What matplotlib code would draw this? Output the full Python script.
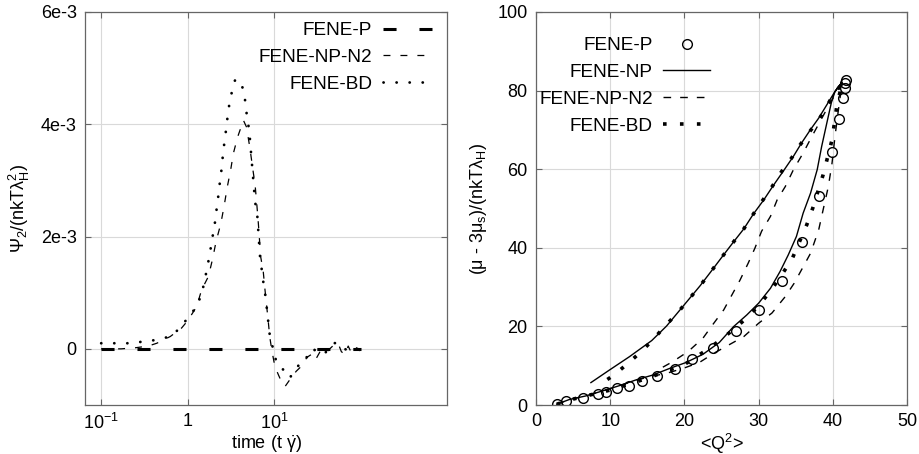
"""Psi_2 transient and stress-conformation hysteresis, FENE-P / NP / BD comparison."""
import matplotlib
matplotlib.use('Agg')
import matplotlib.pyplot as plt
from matplotlib.ticker import FixedLocator, NullLocator

plt.rcParams['font.family'] = ['Liberation Sans', 'DejaVu Sans']
plt.rcParams['mathtext.fontset'] = 'custom'
plt.rcParams['mathtext.rm'] = 'Liberation Sans'
plt.rcParams['mathtext.it'] = 'Liberation Sans:italic'
plt.rcParams['mathtext.default'] = 'regular'
plt.rcParams['lines.scale_dashes'] = False
plt.rcParams['axes.unicode_minus'] = False

# ---- left panel: Psi_2 vs time (values in units of 1e-3) ----
t_p = [0.1, 100.0]
psi_p = [0.0, 0.0]

t_n2 = [0.1, 0.17, 0.25, 0.35, 0.44, 0.63, 0.85, 1.0, 1.27, 1.45, 1.74, 1.95, 2.13,
        2.42, 2.64, 2.88, 3.14, 3.38, 3.78, 4.42, 4.8, 5.26, 5.7, 6.03, 6.3, 6.58,
        7.0, 7.5, 7.85, 8.6, 8.9, 9.4, 10.2, 11.2, 12.3, 13.4, 15.2, 18.0, 21.0,
        24.0, 27.0, 30.0, 34.0, 38.0, 44.0, 50.0, 55.0, 60.0, 66.0, 72.0, 80.0,
        90.0, 100.0]
psi_n2 = [0.0, 0.0, 0.02, 0.05, 0.1, 0.22, 0.37, 0.5, 0.75, 1.05, 1.29, 1.61, 1.91,
          2.23, 2.54, 2.89, 3.18, 3.48, 3.77, 4.07, 3.95, 3.57, 3.18, 2.92, 2.59, 2.23,
          1.64, 1.37, 1.05, 0.46, 0.22, -0.02, -0.31, -0.46, -0.6, -0.67, -0.55, -0.4,
          -0.3, -0.15, -0.1, -0.2, -0.05, -0.1, 0.0, 0.08, 0.1, -0.05, -0.1, 0.05,
          -0.1, 0.02, -0.05]

t_bd = [0.1, 0.152, 0.216, 0.309, 0.44, 0.626, 0.82, 1.0, 1.27, 1.46, 1.58, 1.69,
        1.81, 1.91, 2.04, 2.13, 2.24, 2.33, 2.44, 2.53, 2.64, 2.76, 2.88, 3.03, 3.24,
        3.54, 4.05, 4.54, 4.69, 5.18, 5.5, 6.03, 6.39, 6.85, 7.49, 7.96, 8.9, 9.7,
        10.7, 12.2, 13.9, 15.3, 16.6, 18.9, 20.3, 23.0, 26.0, 29.4, 34.5, 38.8, 43.9,
        49.5, 53.9, 61.0, 68.6, 77.0, 85.0, 95.0]
psi_bd = [0.1, 0.1, 0.1, 0.13, 0.16, 0.22, 0.37, 0.55, 0.75, 0.99, 1.23, 1.46,
          1.7, 1.94, 2.17, 2.41, 2.66, 2.9, 3.13, 3.38, 3.63, 3.86, 4.1, 4.35, 4.57,
          4.79, 4.78, 4.55, 4.31, 3.86, 3.36, 2.62, 2.38, 1.67, 1.2, 0.93, 0.25, 0.01,
          -0.25, -0.34, -0.43, -0.52, -0.4, -0.31, -0.23, -0.14, -0.17, -0.02, -0.02, -0.08, 0.04,
          0.1, 0.11, 0.04, -0.02, 0.01, -0.02, 0.0]

# ---- right panel: (mu - 3mu_s)/(nkT lambda_H) vs <Q^2> ----
q2_p = [2.8, 4.0, 6.4, 8.4, 9.5, 10.9, 12.5, 14.3, 16.3, 18.7, 21.0, 23.8, 26.9,
        30.1, 33.1, 35.8, 38.2, 39.9, 40.9, 41.4, 41.6, 41.7, 41.8]
mu_p = [0.2, 1.0, 1.9, 2.7, 3.4, 4.2, 4.9, 6.2, 7.4, 9.1, 11.6, 14.4, 18.9,
        24.2, 31.6, 41.4, 53.1, 64.5, 72.9, 78.1, 80.7, 82.0, 82.8]

q2_np = [2.8, 4.5, 6.7, 9.0, 11.2, 13.5, 15.7, 18.0, 20.2, 22.5, 24.7, 26.6, 28.4,
         30.0, 31.6, 32.9, 34.0, 35.1, 36.0, 37.0, 37.9, 38.5, 39.2, 39.8, 40.3, 41.2,
         40.3, 39.2, 38.1, 37.0, 35.8, 34.7, 33.4, 32.0, 30.7, 29.3, 28.0, 26.5, 25.0,
         23.6, 22.1, 20.6, 19.1, 17.6, 15.6, 12.6, 9.9, 7.4]
mu_np = [0.2, 1.4, 2.3, 3.6, 4.9, 6.4, 7.6, 9.3, 10.8, 12.9, 15.9, 19.9, 22.9,
         25.9, 29.7, 34.0, 38.2, 42.9, 48.8, 53.9, 59.9, 65.8, 71.8, 76.9, 79.8, 82.0,
         79.8, 76.4, 73.0, 70.1, 66.7, 63.3, 59.7, 55.9, 52.2, 48.6, 44.8, 41.2, 37.5,
         34.0, 30.3, 26.9, 23.5, 20.1, 16.4, 12.3, 8.9, 5.7]

q2_n2 = [2.8, 4.5, 6.7, 9.0, 11.2, 13.5, 15.7, 17.3, 19.8, 22.0, 24.0, 26.0, 28.0,
         30.0, 31.8, 33.6, 34.8, 37.0, 38.1, 38.7, 39.4, 39.9, 40.3, 40.7, 41.0, 41.4,
         40.3, 39.4, 38.3, 37.2, 36.0, 34.7, 33.6, 32.5, 31.6, 30.4, 29.5, 28.6, 27.5,
         26.4, 25.3, 23.8, 22.5, 20.5, 18.4, 16.5]
mu_n2 = [0.2, 1.4, 2.3, 3.6, 4.9, 6.3, 7.4, 7.9, 9.3, 10.8, 13.2, 15.3, 17.4,
         20.8, 23.4, 27.6, 31.0, 38.6, 44.6, 49.7, 55.6, 61.6, 68.4, 74.3, 78.5, 82.0,
         79.0, 76.0, 72.2, 68.4, 64.1, 59.9, 55.6, 52.2, 48.0, 44.2, 39.9, 36.1, 31.8,
         28.0, 24.2, 20.4, 17.0, 13.6, 11.0, 9.0]

q2_bd = [2.8, 5.0, 10.0, 15.0, 20.0, 23.0, 24.9, 26.8, 28.6, 30.2, 31.8, 33.1, 34.5,
         36.5, 37.3, 38.7, 39.9, 40.6, 41.3, 40.8, 39.8, 39.0, 38.1, 36.9, 35.6, 34.5,
         33.1, 31.9, 30.6, 29.3, 28.0, 26.5, 25.0, 23.6, 22.1, 20.6, 19.1, 17.4, 15.8,
         14.2, 12.4, 10.5, 8.5]
mu_bd = [0.2, 1.5, 3.8, 6.8, 10.3, 14.0, 16.6, 19.5, 22.5, 25.7, 29.5, 33.1, 37.1,
         45.9, 50.1, 58.6, 67.5, 76.9, 82.0, 80.7, 78.1, 75.3, 72.6, 69.6, 66.2, 63.0,
         59.4, 55.8, 52.2, 48.6, 44.8, 41.2, 37.5, 34.0, 30.3, 26.9, 23.5, 20.1, 16.7,
         13.6, 10.6, 7.6, 5.1]

FS = 13
frame_col = '#666666'
grid_col = '#d9d9d9'

fig = plt.figure(figsize=(9.2, 4.54), dpi=100)
ax1 = fig.add_axes([85/920, 49/454, 362/920, 393/454])
ax2 = fig.add_axes([536/920, 49/454, 371/920, 393/454])

# left
ax1.plot(t_p, [v*1e-3 for v in psi_p], color='black', lw=2.2,
         dashes=(9.4, 16.5), label='FENE-P')
ax1.plot(t_n2, [v*1e-3 for v in psi_n2], color='black', lw=0.9,
         dashes=(5, 7.2), label='FENE-NP-N2')
ax1.plot(t_bd, [v*1e-3 for v in psi_bd], color='black', lw=2.0,
         dashes=(0.1, 9.3), dash_capstyle='round', label='FENE-BD')
ax1.set_xscale('log')
ax1.set_xlim(0.065, 1000)
ax1.set_ylim(-1e-3, 6e-3)
ax1.xaxis.set_major_locator(FixedLocator([0.1, 1, 10]))
ax1.xaxis.set_minor_locator(NullLocator())
ax1.set_xticklabels(['10$^{-1}$', '1', '10$^{1}$'])
ax1.set_yticks([0, 2e-3, 4e-3, 6e-3])
ax1.set_yticklabels(['0', '2e-3', '4e-3', '6e-3'])
ax1.set_xlabel(r'time (t $\dot{\gamma}$)', fontsize=FS, labelpad=0)
ax1.set_ylabel(r'$\Psi_2$/(nkT$\lambda_H^2$)', fontsize=FS, labelpad=6)
ax1.legend(loc='upper right', bbox_to_anchor=(432/920, 1 - 22/454),
           bbox_transform=fig.transFigure, markerfirst=False, frameon=False,
           handlelength=2.6, handletextpad=0.55, borderpad=0, borderaxespad=0,
           labelspacing=0.5, fontsize=13.7)

# right
ax2.plot(q2_p, mu_p, ls='none', marker='o', ms=7, mfc='none', mec='black',
         mew=1.0, label='FENE-P')
ax2.plot(q2_np, mu_np, color='black', lw=1.0, label='FENE-NP')
ax2.plot(q2_n2, mu_n2, color='black', lw=1.0, dashes=(5.5, 6.5), label='FENE-NP-N2')
ax2.plot(q2_bd, mu_bd, color='black', lw=2.6, dashes=(2.6, 9.6),
         label='FENE-BD')
ax2.set_xlim(0, 50)
ax2.set_ylim(0, 100)
ax2.set_xticks([0, 10, 20, 30, 40, 50])
ax2.set_yticks([0, 20, 40, 60, 80, 100])
ax2.set_xlabel('<Q$^2$>', fontsize=FS, labelpad=1)
ax2.set_ylabel(r'($\mu$ - 3$\mu_s$)/(nkT$\lambda_H$)', fontsize=FS, labelpad=6)
ax2.legend(loc='upper right', bbox_to_anchor=(710/920, 1 - 37/454),
           bbox_transform=fig.transFigure, markerfirst=False, frameon=False,
           handlelength=2.45, handletextpad=0.55, borderpad=0, borderaxespad=0,
           labelspacing=0.5, fontsize=13.7)

for ax in (ax1, ax2):
    ax.grid(True, color=grid_col, lw=0.8)
    ax.set_axisbelow(True)
    for s in ax.spines.values():
        s.set_color(frame_col)
        s.set_linewidth(0.9)
    ax.tick_params(direction='in', length=4, width=0.8, color=frame_col,
                   top=True, right=True, labelsize=FS, pad=6)

fig.savefig('out.png', dpi=100)
